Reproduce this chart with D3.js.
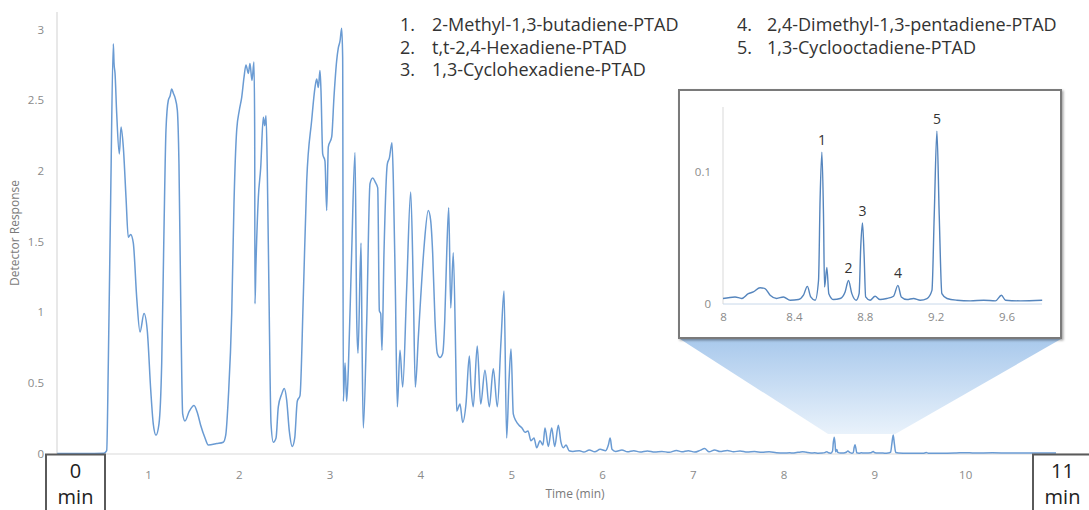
<!DOCTYPE html>
<html>
<head>
<meta charset="utf-8">
<title>Chromatogram - PTAD derivatives</title>
<script src="https://d3js.org/d3.v7.min.js"></script>
<style>
    body {
        margin: 0;
        background: #fff;
        font-family: "Open Sans", sans-serif;
    }
    svg { display: block; }
    .tick text { fill: #8a8a8a; }
</style>
</head>
<body>
<svg width="1089" height="510"></svg>
<script>
// detector trace as [time (min), response]
const traceEarly = [
    [0,0],[0.3,0],[0.515,0.002],[0.545,0.02],[0.563,0.64],[0.589,1.81],[0.618,2.90],[0.626,2.76],
    [0.637,2.69],[0.655,2.41],[0.684,2.12],[0.703,2.31],[0.728,2.17],[0.758,1.81],[0.783,1.53],
    [0.809,1.55],[0.838,1.49],[0.876,1.10],[0.912,0.86],[0.956,0.99],[0.992,0.87],[1.03,0.45],
    [1.058,0.21],[1.088,0.13],[1.121,0.21],[1.151,0.64],[1.176,1.58],[1.198,2.29],[1.224,2.50],
    [1.243,2.53],[1.261,2.58],[1.279,2.55],[1.297,2.52],[1.323,2.43],[1.341,2.05],[1.36,1.10],
    [1.382,0.28],[1.407,0.23],[1.455,0.30],[1.507,0.34],[1.543,0.29],[1.58,0.20],[1.628,0.11],
    [1.664,0.06],[1.757,0.07],[1.829,0.08],[1.856,0.13],[1.885,0.40],[1.922,0.99],[1.947,1.77],
    [1.977,2.29],[2.006,2.43],[2.032,2.52],[2.057,2.66],[2.079,2.75],[2.105,2.69],[2.123,2.76],
    [2.145,2.64],[2.167,2.77],[2.175,2.29],[2.178,1.06],[2.189,1.34],[2.215,1.81],[2.241,2.02],
    [2.27,2.38],[2.285,2.32],[2.30,2.39],[2.314,2.0],[2.333,1.10],[2.355,0.21],[2.38,0.08],
    [2.41,0.11],[2.435,0.33],[2.472,0.42],[2.501,0.46],[2.527,0.38],[2.556,0.16],[2.589,0.05],
    [2.616,0.11],[2.644,0.37],[2.674,0.41],[2.71,1.10]
];
const traceMid = [
    [2.748,1.93],[2.803,2.36],[2.839,2.59],[2.858,2.65],[2.876,2.59],[2.894,2.71],[2.905,2.57],
    [2.924,2.12],[2.949,2.07],[2.968,1.72],[2.986,2.17],[3.023,2.24],[3.048,2.52],[3.078,2.78],
    [3.096,2.87],[3.115,2.92],[3.133,3.01],[3.144,2.80],[3.151,0.37],[3.17,0.64],[3.188,0.37],
    [3.206,0.59],[3.243,1.42],[3.28,2.13],[3.299,0.94],[3.313,0.71],[3.346,1.49],[3.357,0.82],
    [3.371,0.18],[3.409,0.94],[3.445,1.91],[3.475,1.95],[3.503,1.92],[3.53,1.88],[3.548,1.01],
    [3.563,0.99],[3.577,0.73],[3.599,1.42],[3.636,2.05],[3.658,2.09],[3.687,2.20],[3.702,1.93],
    [3.724,1.17],[3.746,0.33],[3.775,0.73],[3.805,0.47],[3.849,1.17],[3.893,1.85],[3.922,1.17],
    [3.944,0.47],[3.977,0.82],[4.003,1.10],[4.04,1.46],[4.087,1.72],[4.113,1.65],[4.135,1.42],
    [4.161,0.94],[4.186,0.71],[4.216,0.68],[4.246,0.71],[4.268,0.94],[4.29,1.42],[4.312,1.74],
    [4.334,1.03],[4.362,1.42],[4.392,0.57],[4.40,0.30],[4.436,0.35],[4.466,0.22],[4.502,0.35],
    [4.539,0.69],[4.557,0.48],[4.582,0.33],[4.626,0.76],[4.664,0.35],[4.711,0.59],[4.759,0.33],
    [4.803,0.60],[4.847,0.33],[4.888,0.80],[4.921,1.15],[4.95,0.11],[4.976,0.52],[4.998,0.74],
    [5.023,0.28],[5.053,0.23],[5.086,0.20],[5.119,0.18],[5.152,0.15],[5.185,0.16],[5.218,0.09],
    [5.251,0.11],[5.281,0.04],[5.317,0.09],[5.35,0.06],[5.372,0.18],[5.409,0.05],[5.446,0.18],
    [5.479,0.05],[5.519,0.20],[5.548,0.08],[5.574,0.04],[5.604,0.06],[5.637,0.02],[5.68,0.015]
];
const traceTail = [
    [5.75,0.02],[5.8,0.01],[5.86,0.025],[5.92,0.012],[5.98,0.03],[6.04,0.02],[6.07,0.06],
    [6.09,0.11],[6.11,0.03],[6.15,0.015],[6.22,0.025],[6.28,0.012],[6.35,0.02],[6.42,0.01],
    [6.5,0.018],[6.58,0.01],[6.66,0.015],[6.74,0.008],[6.82,0.022],[6.88,0.012],[6.95,0.02],
    [7.02,0.01],[7.08,0.022],[7.13,0.035],[7.18,0.012],[7.24,0.025],[7.3,0.014],[7.38,0.022],
    [7.45,0.012],[7.52,0.018],[7.6,0.01],[7.68,0.014],[7.76,0.008],[7.84,0.012],[7.92,0.006]
];
// the part that is blown up in the inset (8 - 9.8 min)
const traceZoom = [
    [8.0,0.0038],[8.068,0.005],[8.105,0.0038],[8.143,0.0075],[8.171,0.0088],[8.209,0.012],
    [8.237,0.0113],[8.266,0.0063],[8.303,0.0038],[8.341,0.005],[8.379,0.0025],[8.426,0.003],
    [8.454,0.0063],[8.476,0.013],[8.495,0.005],[8.52,0.0025],[8.539,0.0175],[8.548,0.08],
    [8.558,0.115],[8.567,0.068],[8.573,0.0125],[8.586,0.0275],[8.597,0.0075],[8.624,0.003],
    [8.661,0.0038],[8.689,0.0088],[8.708,0.0175],[8.727,0.0075],[8.751,0.0025],[8.768,0.0075],
    [8.777,0.0425],[8.787,0.0613],[8.796,0.0375],[8.805,0.005],[8.83,0.0025],[8.858,0.0055],
    [8.886,0.003],[8.924,0.0038],[8.962,0.0055],[8.987,0.0138],[9.006,0.005],[9.038,0.003],
    [9.075,0.0038],[9.113,0.0025],[9.151,0.0038],[9.179,0.01],[9.192,0.0675],[9.207,0.131],
    [9.22,0.0675],[9.235,0.0075],[9.264,0.0038],[9.32,0.0025],[9.396,0.002],[9.471,0.0025],
    [9.537,0.002],[9.571,0.0063],[9.594,0.0025],[9.679,0.002],[9.801,0.0025]
];
const traceEnd = [
    [9.9,0.004],[10.0,0.006],[10.1,0.003],[10.3,0.005],[10.5,0.003],[10.8,0.004],[11,0.003]
];

const yTicks = [0, 0.5, 1, 1.5, 2, 2.5, 3];
const xTicks = [1, 2, 3, 4, 5, 6, 7, 8, 9, 10];
const insetXTicks = [8, 8.4, 8.8, 9.2, 9.6];
const insetYTicks = [0, 0.1];

const legendLeft = ["2-Methyl-1,3-butadiene-PTAD", "t,t-2,4-Hexadiene-PTAD", "1,3-Cyclohexadiene-PTAD"];
const legendRight = ["2,4-Dimethyl-1,3-pentadiene-PTAD", "1,3-Cyclooctadiene-PTAD"];
const peakNames = ["1", "2", "3", "4", "5"];
const peakTimes = [8.558, 8.708, 8.787, 8.987, 9.207];
const peakValues = [0.115, 0.0175, 0.0613, 0.0138, 0.131];

const trace = traceEarly.concat(traceMid, traceTail, traceZoom, traceEnd);

let svg = d3.select("svg");
const lineColor = "#6a9bd3";

// main scales
let x = d3.scaleLinear().domain([0, 11]).range([57.2, 1056]);
let y = d3.scaleLinear().domain([0, 3]).range([453.5, 29.6]);

// zoom wedge under the inset
let defs = svg.append("defs");
let grad = defs.append("linearGradient")
    .attr("id", "wedge")
    .attr("x1", 0).attr("y1", 0).attr("x2", 0).attr("y2", 1);
grad.append("stop").attr("offset", "0%").attr("stop-color", "#a9c9ec");
grad.append("stop").attr("offset", "100%").attr("stop-color", "#e9f2fb");

let shadow = defs.append("filter").attr("id", "shadow")
    .attr("x", "-5%").attr("y", "-5%").attr("width", "115%").attr("height", "115%");
shadow.append("feDropShadow")
    .attr("dx", 1.5).attr("dy", 1.5).attr("stdDeviation", 1.2)
    .attr("flood-color", "#000").attr("flood-opacity", 0.35);

svg.append("path")
    .attr("d", d3.line()([[680, 339], [1061, 339], [x(9.23), 434], [x(8.49), 434]]) + "Z")
    .attr("fill", "url(#wedge)");

// axis lines
svg.append("line")
    .attr("x1", 57).attr("x2", 57).attr("y1", 12).attr("y2", 454)
    .attr("stroke", "#d9d9d9").attr("stroke-width", 1.2);
svg.append("line")
    .attr("x1", 57).attr("x2", 1089).attr("y1", 454).attr("y2", 454)
    .attr("stroke", "#d9d9d9").attr("stroke-width", 1.2);

let yAxis = svg.append("g")
    .attr("transform", "translate(57,0)")
    .call(d3.axisLeft(y).tickValues(yTicks).tickSize(0).tickPadding(13).tickFormat(d => String(d)));
let xAxis = svg.append("g")
    .attr("transform", "translate(0,453.5)")
    .call(d3.axisBottom(x).tickValues(xTicks).tickSize(0).tickPadding(17).tickFormat(d => String(d)));
svg.selectAll(".domain").remove();
svg.selectAll(".tick text")
    .attr("font-family", "Open Sans, sans-serif")
    .attr("font-size", 11.5);

svg.append("text")
    .attr("transform", "translate(19,233) rotate(-90)")
    .attr("text-anchor", "middle")
    .attr("font-size", 12)
    .attr("fill", "#7a7a7a")
    .text("Detector Response");
svg.append("text")
    .attr("x", 575).attr("y", 498)
    .attr("text-anchor", "middle")
    .attr("font-size", 12)
    .attr("fill", "#7a7a7a")
    .text("Time (min)");

// main trace, smoothed a little like the detector output
let line = d3.line()
    .x(d => x(d[0]))
    .y(d => y(d[1]))
    .curve(d3.curveMonotoneX);
svg.append("path")
    .datum(trace)
    .attr("d", line)
    .attr("fill", "none")
    .attr("stroke", lineColor)
    .attr("stroke-width", 1.5)
    .attr("stroke-linejoin", "round");

// start / end boxes
function timeBox(x0, label) {
    let g = svg.append("g");
    g.append("rect")
        .attr("x", x0).attr("y", 454.5).attr("width", 59).attr("height", 70)
        .attr("fill", "#fff").attr("stroke", "#5a5a5a").attr("stroke-width", 2);
    g.append("text")
        .attr("x", x0 + 29.5).attr("y", 478)
        .attr("text-anchor", "middle").attr("font-size", 20).attr("fill", "#222")
        .text(label);
    g.append("text")
        .attr("x", x0 + 29.5).attr("y", 504)
        .attr("text-anchor", "middle").attr("font-size", 20).attr("fill", "#222")
        .text("min");
}
timeBox(46, "0");
timeBox(1033, "11");

// legend
svg.selectAll(".legL")
    .data(legendLeft)
    .enter()
    .append("text")
    .attr("x", 400).attr("y", (d, i) => 31 + i * 22.5)
    .attr("font-size", 18).attr("fill", "#333")
    .text((d, i) => (i + 1) + ".");
svg.selectAll(".legLn")
    .data(legendLeft)
    .enter()
    .append("text")
    .attr("x", 432).attr("y", (d, i) => 31 + i * 22.5)
    .attr("font-size", 18).attr("fill", "#333")
    .text(d => d);
svg.selectAll(".legR")
    .data(legendRight)
    .enter()
    .append("text")
    .attr("x", 737).attr("y", (d, i) => 31 + i * 22.5)
    .attr("font-size", 18).attr("fill", "#333")
    .text((d, i) => (i + 4) + ".");
svg.selectAll(".legRn")
    .data(legendRight)
    .enter()
    .append("text")
    .attr("x", 767).attr("y", (d, i) => 31 + i * 22.5)
    .attr("font-size", 18).attr("fill", "#333")
    .text(d => d);

// inset
svg.append("rect")
    .attr("x", 679).attr("y", 90).attr("width", 382).attr("height", 248)
    .attr("fill", "#fff").attr("stroke", "#7a7a7a").attr("stroke-width", 2)
    .attr("filter", "url(#shadow)");

let ix = d3.scaleLinear().domain([8, 9.8]).range([723, 1042]);
let iy = d3.scaleLinear().domain([0, 0.1]).range([303.5, 172]);

svg.append("line")
    .attr("x1", 723).attr("x2", 723).attr("y1", 107).attr("y2", 304)
    .attr("stroke", "#d9d9d9");
svg.append("line")
    .attr("x1", 723).attr("x2", 1042).attr("y1", 304).attr("y2", 304)
    .attr("stroke", "#c8d8ea");

let iyAxis = svg.append("g")
    .attr("transform", "translate(723,0)")
    .call(d3.axisLeft(iy).tickValues(insetYTicks).tickSize(0).tickPadding(12).tickFormat(d => String(d)));
let ixAxis = svg.append("g")
    .attr("transform", "translate(0,304)")
    .call(d3.axisBottom(ix).tickValues(insetXTicks).tickSize(0).tickPadding(9).tickFormat(d => String(d)));
iyAxis.select(".domain").remove();
ixAxis.select(".domain").remove();
iyAxis.selectAll(".tick text").attr("font-family", "Open Sans, sans-serif").attr("font-size", 11.5);
ixAxis.selectAll(".tick text").attr("font-family", "Open Sans, sans-serif").attr("font-size", 11.5);

let iline = d3.line()
    .x(d => ix(d[0]))
    .y(d => iy(d[1]))
    .curve(d3.curveMonotoneX);
svg.append("path")
    .datum(traceZoom)
    .attr("d", iline)
    .attr("fill", "none")
    .attr("stroke", "#5585bd")
    .attr("stroke-width", 1.4)
    .attr("stroke-linejoin", "round");

svg.selectAll(".peakLabel")
    .data(peakNames)
    .enter()
    .append("text")
    .attr("x", (d, i) => ix(peakTimes[i]))
    .attr("y", (d, i) => iy(peakValues[i]) - 7)
    .attr("text-anchor", "middle")
    .attr("font-size", 14).attr("fill", "#333")
    .text(d => d);
</script>
</body>
</html>
